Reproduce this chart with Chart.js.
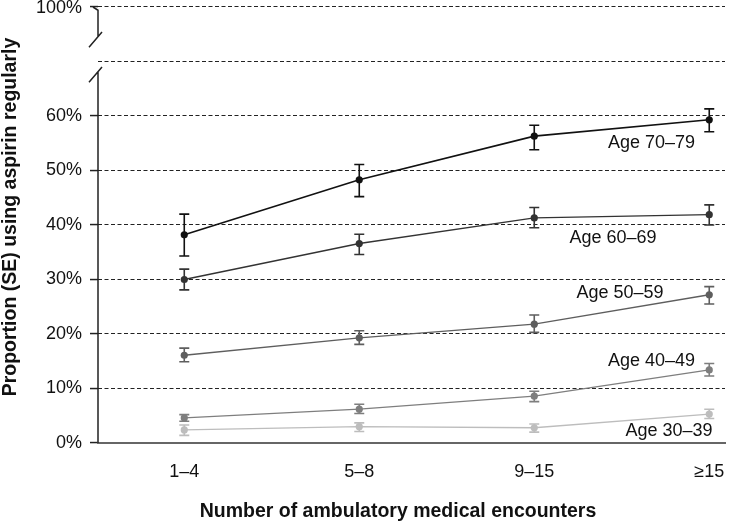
<!DOCTYPE html>
<html>
<head>
<meta charset="utf-8">
<script src="https://cdn.jsdelivr.net/npm/chart.js@4/dist/chart.umd.min.js"></script>
<style>
  body { margin: 0; background: #fff; }
</style>
</head>
<body>
<canvas id="aspirinChart" width="729" height="525"></canvas>
<script>
const categories = ['1–4', '5–8', '9–15', '≥15']
const yTicks = [0, 10, 20, 30, 40, 50, 60, 70, 80]

// proportion (%) and SE bar ends per age group
const age70 = [38.2, 48.3, 56.3, 59.3]
const age70Low = [34.3, 45.2, 53.8, 57.1]
const age70High = [42.0, 51.1, 58.3, 61.3]

const age60 = [30.0, 36.6, 41.3, 41.9]
const age60Low = [28.1, 34.6, 39.5, 40.0]
const age60High = [31.9, 38.3, 43.2, 43.7]

const age50 = [16.1, 19.3, 21.8, 27.2]
const age50Low = [14.9, 18.1, 20.3, 25.5]
const age50High = [17.4, 20.6, 23.5, 28.7]

const age40 = [4.6, 6.2, 8.6, 13.4]
const age40Low = [4.0, 5.4, 7.6, 12.3]
const age40High = [5.2, 7.1, 9.5, 14.6]

const age30 = [2.4, 3.0, 2.8, 5.3]
const age30Low = [1.4, 2.1, 2.0, 4.5]
const age30High = [3.3, 3.7, 3.5, 6.2]

const FONT = '"Liberation Sans", Arial, sans-serif'

function makeSeries(label, values, low, high, color, width){
    return {
        label: label,
        data: values.map((v, i) => ({x: i, y: v})),
        low: low,
        high: high,
        borderColor: color,
        backgroundColor: color,
        borderWidth: width,
        pointRadius: 3.6,
        pointBorderWidth: 0,
        pointBackgroundColor: color,
        tension: 0
    }
}

const datasets = [
    makeSeries('Age 70–79', age70, age70Low, age70High, '#111111', 1.6),
    makeSeries('Age 60–69', age60, age60Low, age60High, '#333333', 1.4),
    makeSeries('Age 50–59', age50, age50Low, age50High, '#5e5e5e', 1.3),
    makeSeries('Age 40–49', age40, age40Low, age40High, '#7e7e7e', 1.3),
    makeSeries('Age 30–39', age30, age30Low, age30High, '#bdbdbd', 1.3)
]

// where each series name sits, in data units (x index, y %)
const labelX = [2.67, 2.45, 2.49, 2.67, 2.77]
const labelY = [55.0, 37.6, 27.5, 15.0, 2.2]

const errorBars = {
    id: 'errorBars',
    afterDatasetsDraw(chart){
        const ctx = chart.ctx
        const xs = chart.scales.x
        const ys = chart.scales.y
        ctx.save()
        chart.data.datasets.forEach(ds => {
            ctx.strokeStyle = ds.borderColor
            ctx.lineWidth = 1.6
            ds.data.forEach((p, i) => {
                const x = xs.getPixelForValue(p.x)
                const y1 = ys.getPixelForValue(ds.low[i])
                const y2 = ys.getPixelForValue(ds.high[i])
                ctx.beginPath()
                ctx.moveTo(x, y1)
                ctx.lineTo(x, y2)
                ctx.moveTo(x - 5, y1)
                ctx.lineTo(x + 5, y1)
                ctx.moveTo(x - 5, y2)
                ctx.lineTo(x + 5, y2)
                ctx.stroke()
            })
        })
        ctx.restore()
    }
}

const decorations = {
    id: 'decorations',
    afterDraw(chart){
        const ctx = chart.ctx
        const xs = chart.scales.x
        const ys = chart.scales.y
        const ax = chart.chartArea.left
        ctx.save()

        // broken y axis
        ctx.strokeStyle = '#222'
        ctx.lineWidth = 1.5
        ctx.beginPath()
        ctx.moveTo(ax, ys.getPixelForValue(0))
        ctx.lineTo(ax, ys.getPixelForValue(68.2))
        ctx.moveTo(ax - 9, ys.getPixelForValue(66.2))
        ctx.lineTo(ax + 4, ys.getPixelForValue(69.0))
        ctx.moveTo(ax - 9, ys.getPixelForValue(72.6))
        ctx.lineTo(ax + 4, ys.getPixelForValue(75.4))
        ctx.moveTo(ax, ys.getPixelForValue(74.6))
        ctx.lineTo(ax, ys.getPixelForValue(79.4))
        ctx.lineTo(ax - 5, ys.getPixelForValue(80))
        ctx.stroke()

        // top label above the break, nudged so it is not clipped
        ctx.fillStyle = '#111'
        ctx.font = '18px ' + FONT
        ctx.textAlign = 'right'
        ctx.textBaseline = 'middle'
        ctx.fillText('100%', ax - 16, ys.getPixelForValue(80) + 1.5)

        // series names
        ctx.textAlign = 'center'
        chart.data.datasets.forEach((ds, i) => {
            ctx.fillText(ds.label, xs.getPixelForValue(labelX[i]), ys.getPixelForValue(labelY[i]))
        })

        // axis titles
        ctx.font = 'bold 19.5px ' + FONT
        ctx.fillText('Number of ambulatory medical encounters', 398, 512)
        ctx.translate(11, 217)
        ctx.rotate(-Math.PI / 2)
        ctx.fillText('Proportion (SE) using aspirin regularly', 0, 0)
        ctx.restore()
    }
}

const config = {
    type: 'line',
    data: {datasets: datasets},
    options: {
        responsive: false,
        animation: false,
        devicePixelRatio: 1,
        layout: {padding: {top: 7, left: 0, right: 0, bottom: 0}},
        plugins: {
            legend: {display: false},
            tooltip: {enabled: false}
        },
        scales: {
            x: {
                type: 'linear',
                min: -0.493,
                max: 3.09,
                afterBuildTicks: scale => {
                    scale.ticks = categories.map((c, i) => ({value: i}))
                },
                afterFit: scale => {
                    scale.height = 82
                    scale.paddingLeft = 0
                    scale.paddingRight = 0
                },
                grid: {display: false, drawTicks: false},
                border: {display: true, color: '#666', width: 2},
                ticks: {
                    padding: 18,
                    color: '#111',
                    font: {family: FONT, size: 18},
                    maxRotation: 0,
                    callback: v => categories[v]
                }
            },
            y: {
                min: 0,
                max: 80,
                afterBuildTicks: scale => {
                    scale.ticks = yTicks.map(v => ({value: v}))
                },
                afterFit: scale => {
                    scale.width = 98
                    scale.paddingTop = 0
                    scale.paddingBottom = 0
                },
                border: {display: false, dash: [4, 2.5]},
                grid: {
                    color: c => c.tick && c.tick.value === 0 ? 'rgba(0,0,0,0)' : '#222',
                    lineWidth: 1.1,
                    tickLength: 8,
                    tickBorderDash: [],
                    tickWidth: 1.5,
                    tickColor: c => c.tick && c.tick.value === 70 ? 'rgba(0,0,0,0)' : '#222'
                },
                ticks: {
                    padding: 8,
                    color: '#111',
                    font: {family: FONT, size: 18},
                    callback: v => v >= 70 ? '' : v + '%'
                }
            }
        }
    },
    plugins: [errorBars, decorations]
}

const myChart = new Chart(
    document.getElementById('aspirinChart'),
    config
)
</script>
</body>
</html>
